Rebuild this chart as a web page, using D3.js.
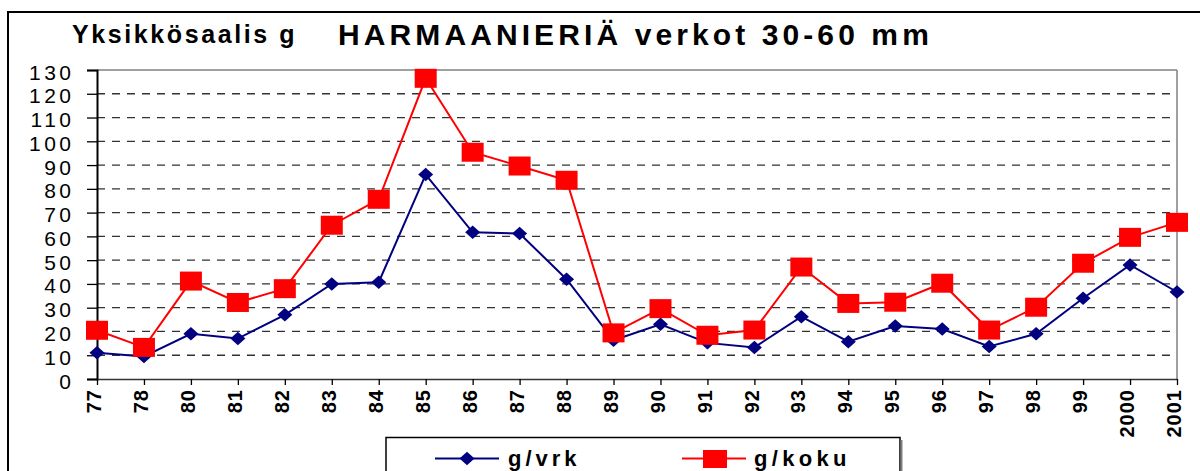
<!DOCTYPE html>
<html>
<head>
<meta charset="utf-8">
<script src="https://cdn.jsdelivr.net/npm/d3@7"></script>
<style>
  html, body { margin: 0; padding: 0; background: #fff; }
  svg { display: block; font-family: "Liberation Sans", Arial, sans-serif; }
</style>
</head>
<body>
<svg id="chart" width="1200" height="471"></svg>
<script>
// ---- data ----
const years = ["77","78","80","81","82","83","84","85","86","87","88","89","90","91","92","93","94","95","96","97","98","99","2000","2001"];
const gVrk  = [11, 9.5, 19, 17, 27, 40, 40.7, 86, 61.7, 61.2, 42, 16.3, 23, 15.2, 13.3, 26.2, 15.7, 22.3, 21, 13.7, 19, 34, 48, 36.6];
const gKoku = [20.5, 13.3, 41.2, 32.2, 38, 64.7, 75.6, 126.5, 95.4, 89.6, 83.6, 19.4, 29.6, 18.4, 20.6, 47.1, 31.8, 32.3, 40.3, 20.6, 30.2, 48.7, 59.6, 65.9];
const yTicks = [0,10,20,30,40,50,60,70,80,90,100,110,120,130];
const seriesNames = ["g/vrk", "g/koku"];
const titleLeft = "Yksikkösaalis g";
const titleMain = "HARMAANIERIÄ verkot 30-60 mm";

// ---- layout ----
const svg = d3.select("#chart");
const pL = 97, pR = 1177, pT = 70, pB = 379;
const x = d3.scalePoint().domain(years).range([pL, pR]).padding(0);
const y = d3.scaleLinear().domain([0, 130]).range([pB, pT]);

// outer frame (extends beyond the picture on right and bottom)
svg.append("rect").attr("x", 8).attr("y", 12).attr("width", 1220).attr("height", 500)
  .attr("fill", "none").attr("stroke", "#000").attr("stroke-width", 2);

// titles
svg.append("text").attr("x", 72).attr("y", 43)
  .attr("font-size", 25).attr("font-weight", "bold").attr("letter-spacing", 2.6)
  .attr("fill", "#000").text(titleLeft);
svg.append("text").attr("x", 338).attr("y", 45)
  .attr("font-size", 30).attr("font-weight", "bold").attr("letter-spacing", 4.1)
  .attr("fill", "#000").text(titleMain);

// gridlines
svg.append("g").selectAll("line").data(yTicks.filter(d => d > 0 && d < 130)).join("line")
  .attr("x1", pL).attr("x2", pR)
  .attr("y1", d => y(d)).attr("y2", d => y(d))
  .attr("stroke", "#333").attr("stroke-width", 1.3).attr("stroke-dasharray", "8,7");

// plot area top / right border
svg.append("line").attr("x1", pL).attr("x2", pR).attr("y1", y(130)).attr("y2", y(130))
  .attr("stroke", "#808080").attr("stroke-width", 1.5);
svg.append("line").attr("x1", pR).attr("x2", pR).attr("y1", y(130)).attr("y2", y(0))
  .attr("stroke", "#808080").attr("stroke-width", 1.5);

// y axis
const yAxis = svg.append("g").attr("transform", `translate(${pL},0)`)
  .call(d3.axisLeft(y).tickValues(yTicks).tickSize(10).tickPadding(12.5).tickFormat(d3.format("d")));
yAxis.select(".domain").attr("stroke", "#000").attr("stroke-width", 2);
yAxis.selectAll(".tick line").attr("stroke", "#000").attr("stroke-width", 1.3);
yAxis.selectAll(".tick text")
  .attr("font-family", "'Liberation Sans', Arial, sans-serif")
  .attr("font-size", 21).attr("letter-spacing", 3.5).attr("fill", "#000")
  .attr("dy", "0.43em");

// x axis
const xAxis = svg.append("g").attr("transform", `translate(0,${pB})`)
  .call(d3.axisBottom(x).tickSize(6).tickSizeOuter(0));
xAxis.select(".domain").attr("stroke", "#333").attr("stroke-width", 1.5);
xAxis.selectAll(".tick line").attr("stroke", "#000").attr("stroke-width", 1.3);
xAxis.selectAll(".tick text")
  .attr("font-family", "'Liberation Sans', Arial, sans-serif")
  .attr("font-size", 20).attr("font-weight", "bold").attr("letter-spacing", 1).attr("fill", "#000")
  .attr("transform", "rotate(-90)")
  .attr("text-anchor", "end")
  .attr("x", -10).attr("y", 0).attr("dy", "0.18em");

// series
const blue = "#000080", red = "#ff0000";
const line = d3.line().x((d, i) => x(years[i])).y(d => y(d));

const diamond = (w, h) => `M0,${-h/2}L${w/2},0L0,${h/2}L${-w/2},0Z`;

svg.append("path").datum(gVrk).attr("d", line)
  .attr("fill", "none").attr("stroke", blue).attr("stroke-width", 2);
svg.append("g").selectAll("path").data(gVrk).join("path")
  .attr("transform", (d, i) => `translate(${x(years[i])},${y(d)})`)
  .attr("d", diamond(15, 13.5)).attr("fill", blue);

svg.append("path").datum(gKoku).attr("d", line)
  .attr("fill", "none").attr("stroke", red).attr("stroke-width", 2);
svg.append("g").selectAll("rect").data(gKoku).join("rect")
  .attr("x", (d, i) => x(years[i]) - 11).attr("y", d => y(d) - 9.5)
  .attr("width", 22).attr("height", 19).attr("fill", red);

// legend
const lg = svg.append("g");
lg.append("rect").attr("x", 386).attr("y", 437.5).attr("width", 514).attr("height", 60)
  .attr("fill", "#fff").attr("stroke", "#000").attr("stroke-width", 1.5);
lg.append("line").attr("x1", 901.5).attr("x2", 901.5).attr("y1", 440).attr("y2", 471)
  .attr("stroke", "#808080").attr("stroke-width", 2);
// g/vrk
lg.append("line").attr("x1", 435).attr("x2", 499).attr("y1", 458.5).attr("y2", 458.5)
  .attr("stroke", blue).attr("stroke-width", 2);
lg.append("path").attr("transform", "translate(467,458.5)").attr("d", diamond(15, 13.5)).attr("fill", blue);
lg.append("text").attr("x", 508).attr("y", 466).attr("font-size", 22).attr("font-weight", "bold")
  .attr("letter-spacing", 4).attr("fill", "#000").text(seriesNames[0]);
// g/koku
lg.append("line").attr("x1", 682).attr("x2", 746).attr("y1", 458.5).attr("y2", 458.5)
  .attr("stroke", red).attr("stroke-width", 2);
lg.append("rect").attr("x", 703).attr("y", 450).attr("width", 24).attr("height", 18).attr("fill", red);
lg.append("text").attr("x", 754).attr("y", 466).attr("font-size", 22).attr("font-weight", "bold")
  .attr("letter-spacing", 4.3).attr("fill", "#000").text(seriesNames[1]);
</script>
</body>
</html>
